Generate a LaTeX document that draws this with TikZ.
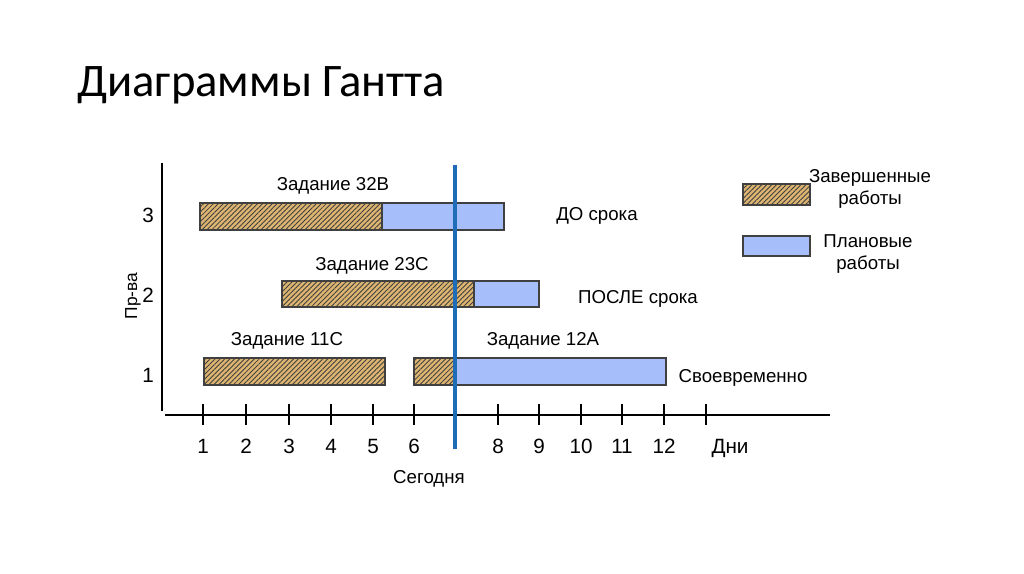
\documentclass[tikz,border=0pt]{standalone}
\usepackage{fontspec}
\setmainfont{Liberation Sans}
\newfontfamily\titlefont{Carlito}
\usetikzlibrary{positioning}
\usetikzlibrary{patterns.meta}
\usepackage{xcolor}
\definecolor{tan}{HTML}{DDB470}
\definecolor{planblue}{HTML}{A6BFFA}
\definecolor{todayblue}{HTML}{1F6CB8}

\begin{document}
\begin{tikzpicture}
[x=0.75pt, y=-0.75pt,
% The done style is used to draw the finished part of a task
done/.style={draw=black!75, thick, fill=tan, postaction={pattern={Lines[angle=45,distance=2.6pt,line width=0.65pt]}, pattern color=black!75}},
% The plan style is used to draw the planned part of a task
plan/.style={draw=black!75, thick, fill=planblue},
% The label style is used to write the tasks' names
label/.style={font=\fontsize{14}{16}\selectfont, inner sep=0pt},
% The tick style is used for the numbers on the axes
tick/.style={font=\fontsize{15.5}{17}\selectfont, inner sep=0pt, anchor=base}
]
\useasboundingbox (0,0) rectangle (1024,574);
% Title
\node [anchor=base west, inner sep=0pt, font=\titlefont\fontsize{35}{40}\selectfont] (title) at (77,97) {Диаграммы Гантта};

% Draw axes
\coordinate (origin) at (162,415);
\draw [line width=1.6pt] (162,163) -- (162,411);
\draw [line width=1.6pt] (165,415) -- (830,415);
\foreach \x in {203,246,289,331,373,414,498,539,581,622,664,706}
  \draw [line width=0.8pt] (\x,404) -- (\x,425);
\foreach \x/\t in {203/1,246/2,289/3,331/4,373/5,414/6,498/8,539/9,581/10,622/11,664/12}
  \node [tick] (day\t) at (\x,453) {\t};
\node [tick] (days) at (730,453) {Дни};

% Rows
\node [tick] (row3) at (148,222) {3};
\node [tick] (row2) at (148,302) {2};
\node [tick] (row1) at (148,382) {1};
\node [label, font=\fontsize{13}{15}\selectfont, rotate=90] (prod) at (133,296) {Пр-ва};

% Draw bars
\draw [done] (200,203) rectangle (382,230);
\draw [plan] (382,203) rectangle (504,230);
\draw [done] (282,281) rectangle (474,307);
\draw [plan] (474,281) rectangle (539,307);
\draw [done] (204,358) rectangle (385,385);
\draw [done] (414,358) rectangle (455,385);
\draw [plan] (455,358) rectangle (666,385);

% Task names
\node [label] (t32b) at (333,186) {Задание 32B};
\node [label] (t23c) at (372,266) {Задание 23C};
\node [label] (t11c) at (287,341) {Задание 11C};
\node [label] (t12a) at (543,341) {Задание 12A};
\node [label] (early) at (597,216) {ДО срока};
\node [label] (late) at (638,299) {ПОСЛЕ срока};
\node [label] (ontime) at (743,378) {Своевременно};

% Today line
\draw [todayblue, line width=2.4pt] (455,165) -- (455,449);
\node [label] (today) at (429,479) {Сегодня};

% Legend
\draw [done] (743,184) rectangle (810,205);
\draw [plan] (743,236) rectangle (810,256);
\node [label, align=center] (ldone) at (870,189) {Завершенные\\работы};
\node [label, align=center] (lplan) at (868,254) {Плановые\\работы};
\end{tikzpicture}
\end{document}
